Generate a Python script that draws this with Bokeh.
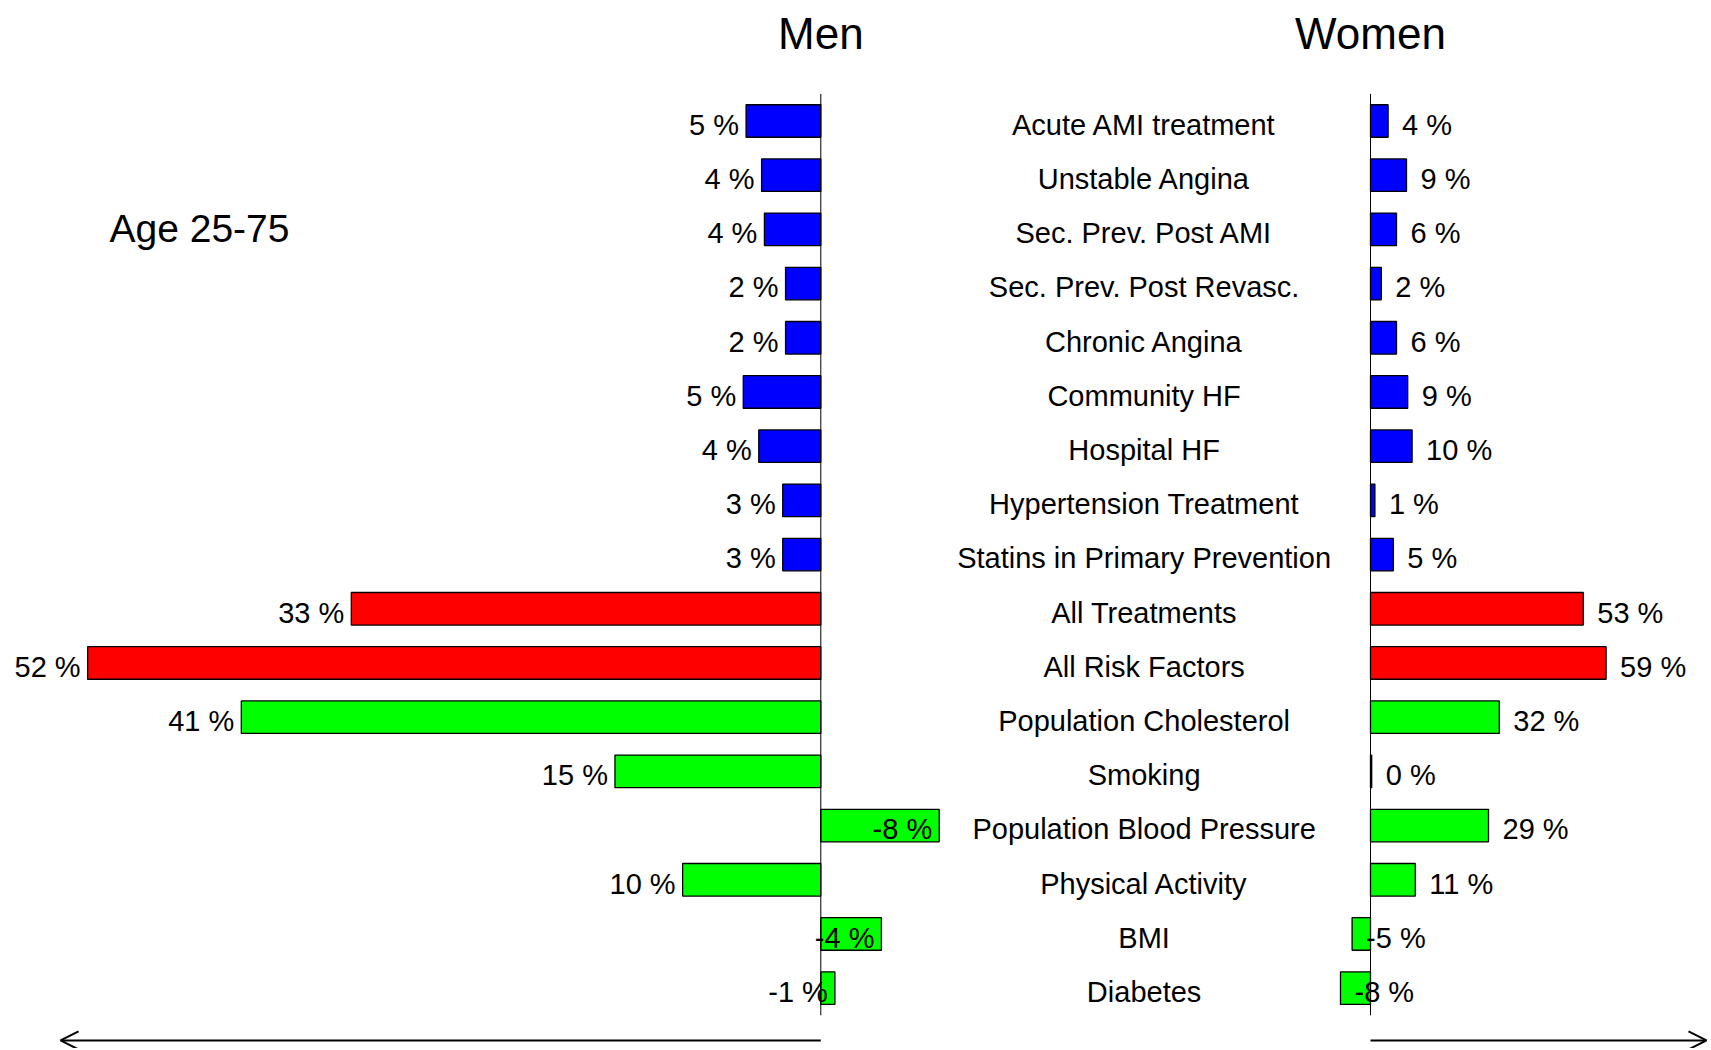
from bokeh.plotting import figure
from bokeh.models import Range1d, Arrow, OpenHead, ColumnDataSource
from bokeh.core.properties import value
from bokeh.embed import file_html
from bokeh.resources import INLINE

categories = ["Acute AMI treatment", "Unstable Angina", "Sec. Prev. Post AMI",
              "Sec. Prev. Post Revasc.", "Chronic Angina", "Community HF",
              "Hospital HF", "Hypertension Treatment", "Statins in Primary Prevention",
              "All Treatments", "All Risk Factors", "Population Cholesterol",
              "Smoking", "Population Blood Pressure", "Physical Activity", "BMI",
              "Diabetes"]
groups = ["treatment"] * 9 + ["total"] * 2 + ["risk"] * 6
men_values = [5.3, 4.2, 4.0, 2.5, 2.5, 5.5, 4.4, 2.7, 2.7, 33.3, 52.0, 41.1,
              14.6, -8.4, 9.8, -4.3, -1.0]
men_labels = [5, 4, 4, 2, 2, 5, 4, 3, 3, 33, 52, 41, 15, -8, 10, -4, -1]
women_values = [4.4, 9.0, 6.5, 2.7, 6.5, 9.3, 10.4, 1.1, 5.7, 53.2, 58.9, 32.2,
                0.3, 29.5, 11.2, -4.6, -7.5]
women_labels = [4, 9, 6, 2, 6, 9, 10, 1, 5, 53, 59, 32, 0, 29, 11, -5, -8]
group_colors = {"treatment": "#0000FF", "total": "#FF0000", "risk": "#00FF00"}

FONT = value("Liberation Sans")

rows = list(range(len(categories)))
src = ColumnDataSource(dict(
    row=rows,
    cat=categories,
    men=men_values,
    women=women_values,
    men_text=[f"{v} %" for v in men_labels],
    women_text=[f"{v} %" for v in women_labels],
    color=[group_colors[g] for g in groups],
    label_y=[r + 0.07 for r in rows],
))

p = figure(width=1708, height=1048,
           x_range=Range1d(58.18, -62.96), y_range=Range1d(17.113, -2.223),
           output_backend="svg", toolbar_location=None, min_border=0,
           x_axis_location=None, y_axis_location=None)
p.grid.visible = False
p.outline_line_color = None
p.extra_x_ranges = {"women": Range1d(-342.5, 84.5)}

# bars
p.hbar(y="row", left=0, right="men", height=0.6, source=src,
       fill_color="color", line_color="black", line_width=1.3)
p.hbar(y="row", left=0, right="women", height=0.6, source=src,
       fill_color="color", line_color="black", line_width=1.3,
       x_range_name="women")

# vertical axis lines
p.segment(x0=[0], x1=[0], y0=[-0.5], y1=[16.5], line_color="black", line_width=1)
p.segment(x0=[0], x1=[0], y0=[-0.5], y1=[16.5], line_color="black", line_width=1,
          x_range_name="women")

# value labels
p.text(x="men", y="label_y", text="men_text", source=src, text_align="right",
       text_baseline="middle", x_offset=-7, text_font=FONT,
       text_font_size="29px", text_color="black")
p.text(x="women", y="label_y", text="women_text", source=src, text_align="left",
       text_baseline="middle", x_offset=14, text_font=FONT,
       text_font_size="29px", text_color="black", x_range_name="women")

# category labels
p.text(x=-56.6, y="label_y", text="cat", source=src, text_align="center",
       text_baseline="middle", text_font=FONT, text_font_size="29px",
       text_color="black", x_range_name="women")

# titles
p.text(x=[0], y=[-1.614], text=["Men"], text_align="center", text_baseline="middle",
       text_font=FONT, text_font_size="44px", text_color="black")
p.text(x=[0], y=[-1.614], text=["Women"], text_align="center", text_baseline="middle",
       text_font=FONT, text_font_size="44px", text_color="black",
       x_range_name="women")
p.text(x=[50.45], y=[1.98], text=["Age 25-75"], text_align="left",
       text_baseline="middle", text_font=FONT, text_font_size="39px",
       text_color="black")

# arrows
p.add_layout(Arrow(end=OpenHead(size=18, line_width=2, line_color="black"),
                   x_start=0, y_start=16.965, x_end=53.92, y_end=16.965,
                   line_width=2, line_color="black"))
p.add_layout(Arrow(end=OpenHead(size=18, line_width=2, line_color="black"),
                   x_start=0, y_start=16.965, x_end=84.0, y_end=16.965,
                   line_width=2, line_color="black", x_range_name="women"))

open("out.html", "w").write(file_html(p, INLINE))
